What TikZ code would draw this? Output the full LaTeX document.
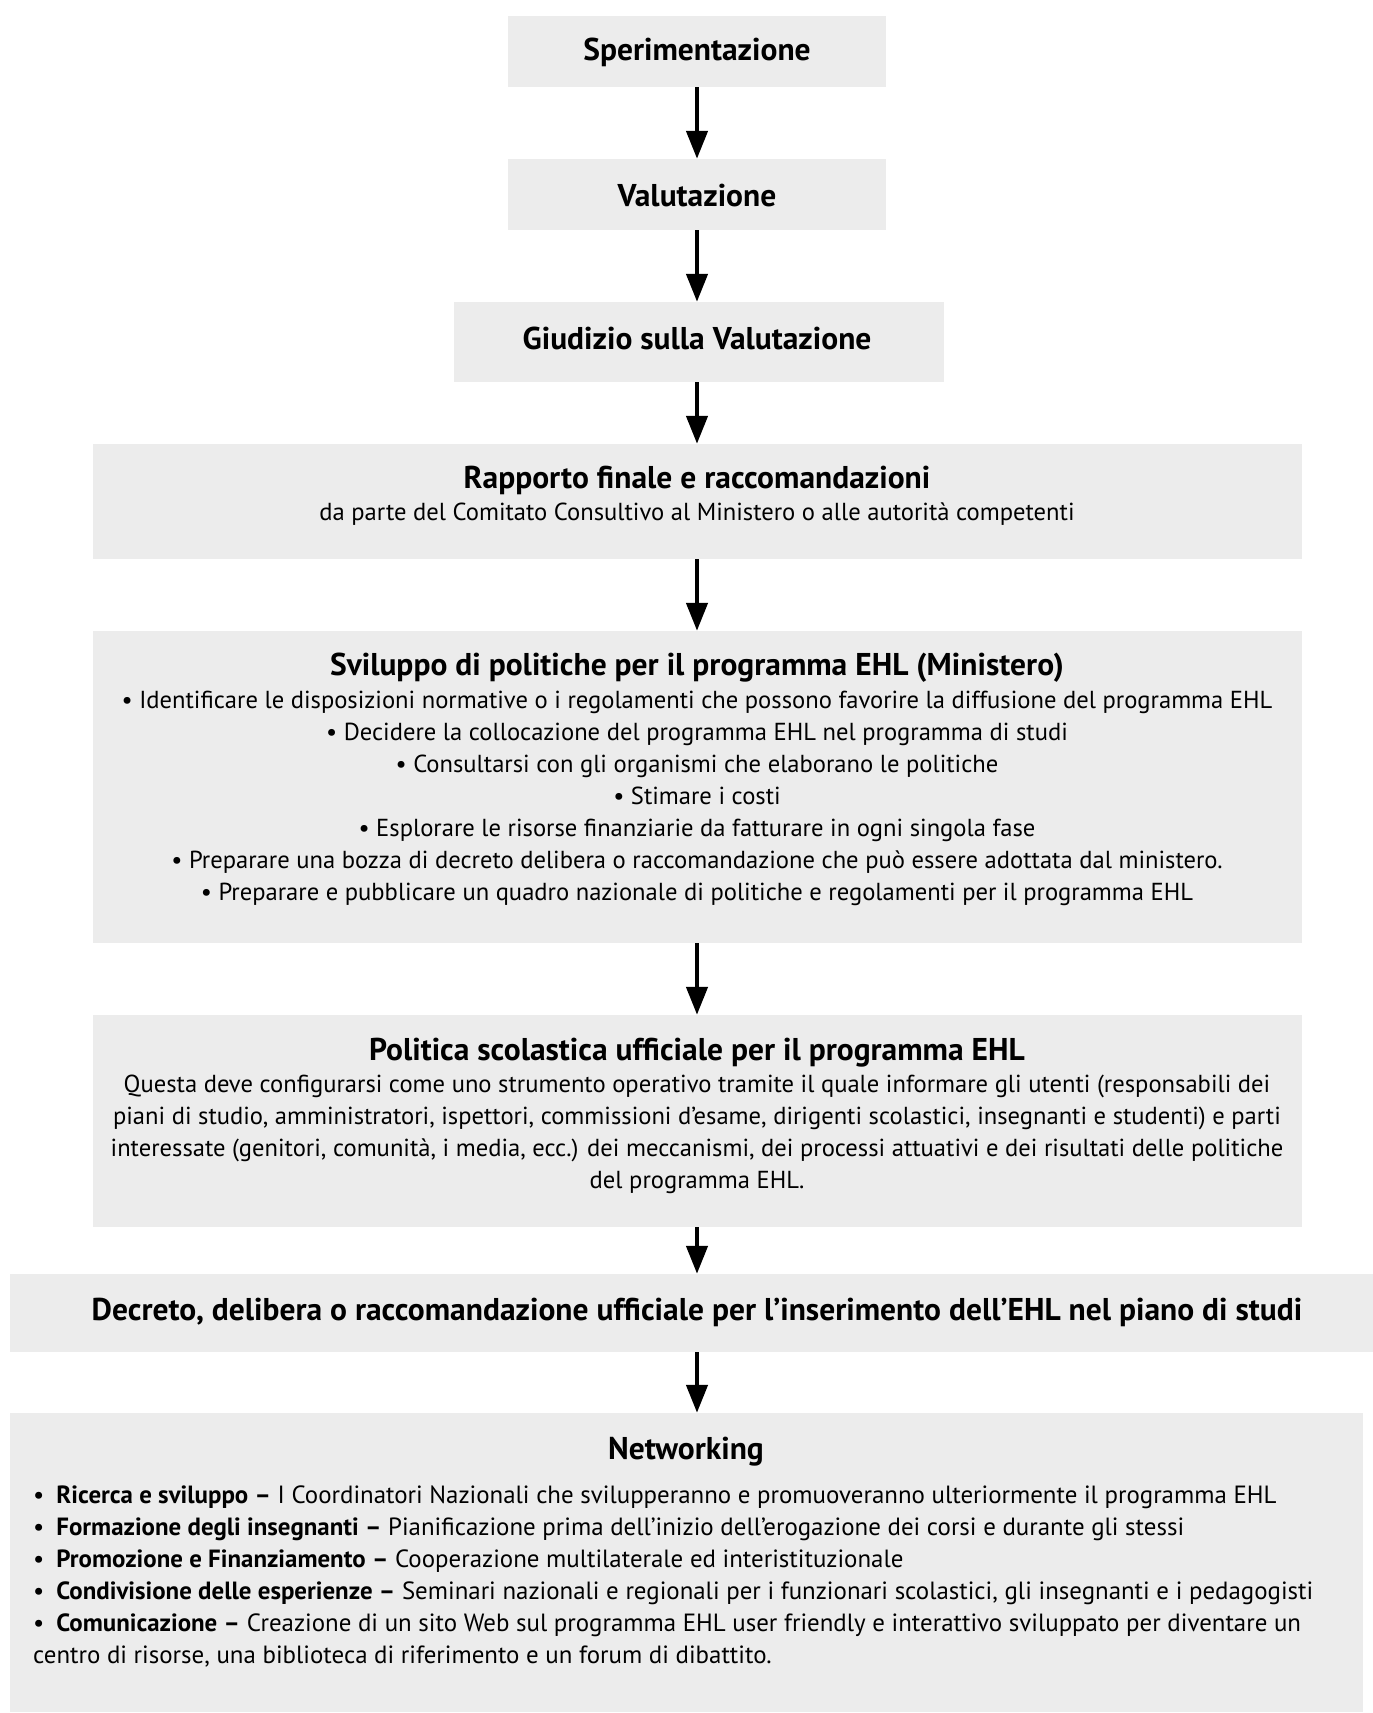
\documentclass[tikz,border=0pt]{standalone}
\usepackage{fontspec}
\setmainfont{PT Sans}
\usetikzlibrary{arrows.meta}
\definecolor{boxgrey}{RGB}{236,236,236}

\begin{document}
\begin{tikzpicture}[x=1pt, y=-1pt,
  box/.style={fill=boxgrey, inner sep=0pt},
  titel/.style={inner sep=0pt, font=\fontsize{31.5}{32}\selectfont\bfseries},
  corpo/.style={inner sep=0pt, align=center, font=\fontsize{24.6}{32}\selectfont},
  flow/.style={-{Triangle[length=28pt,width=21pt]}, line width=4.5pt}]

\useasboundingbox (0,0) rectangle (1373,1713);

% Kaesten (grau)
\node[box, minimum width=378pt, minimum height=71pt]   (spe) at (697,51.5) {};
\node[box, minimum width=378pt, minimum height=71pt]   (val) at (697,194.5) {};
\node[box, minimum width=490pt, minimum height=80pt]   (giu) at (699,342) {};
\node[box, minimum width=1209pt, minimum height=115pt] (rap) at (697.5,501.5) {};
\node[box, minimum width=1209pt, minimum height=312pt] (svi) at (697.5,787) {};
\node[box, minimum width=1209pt, minimum height=212pt] (pol) at (697.5,1121) {};
\node[box, minimum width=1363pt, minimum height=78pt]  (dec) at (691.5,1313) {};
\node[box, minimum width=1353pt, minimum height=299pt] (net) at (686.5,1562.5) {};

% Titel
\node[titel] (spe-t) at (697,52)  {Sperimentazione};
\node[titel] (val-t) at (697,196) {Valutazione};
\node[titel] (giu-t) at (697,338) {Giudizio sulla Valutazione};
\node[titel] (rap-t) at (697,480) {Rapporto finale e raccomandazioni};
\node[titel] (svi-t) at (697,668) {Sviluppo di politiche per il programma EHL (Ministero)};
\node[titel] (pol-t) at (697,1053) {Politica scolastica ufficiale per il programma EHL};
\node[titel] (dec-t) at (697,1312) {Decreto, delibera o raccomandazione ufficiale per l’inserimento dell’EHL nel piano di studi};
\node[titel] (net-t) at (686,1452) {Networking};

% Text
\node[corpo, anchor=north] (rap-c) at (697,502.5)
  {da parte del Comitato Consultivo al Ministero o alle autorità competenti};
\node[corpo, anchor=north] (svi-c) at (697,690.5)
  {• Identificare le disposizioni normative o i regolamenti che possono favorire la diffusione del programma EHL\\
   • Decidere la collocazione del programma EHL nel programma di studi\\
   • Consultarsi con gli organismi che elaborano le politiche\\
   • Stimare i costi\\
   • Esplorare le risorse finanziarie da fatturare in ogni singola fase\\
   • Preparare una bozza di decreto delibera o raccomandazione che può essere adottata dal ministero.\\
   • Preparare e pubblicare un quadro nazionale di politiche e regolamenti per il programma EHL};
\node[corpo, anchor=north] (pol-c) at (697,1074.5)
  {Questa deve configurarsi come uno strumento operativo tramite il quale informare gli utenti (responsabili dei\\
   piani di studio, amministratori, ispettori, commissioni d’esame, dirigenti scolastici, insegnanti e studenti) e parti\\
   interessate (genitori, comunità, i media, ecc.) dei meccanismi, dei processi attuativi e dei risultati delle politiche\\
   del programma EHL.};
\node[corpo, align=left, anchor=north west, font=\fontsize{24.9}{32}\selectfont] (net-c) at (33,1485.5)
  {•\hskip12pt\textbf{Ricerca e sviluppo –} I Coordinatori Nazionali che svilupperanno e promuoveranno ulteriormente il programma EHL\\
   •\hskip12pt\textbf{Formazione degli insegnanti –} Pianificazione prima dell’inizio dell’erogazione dei corsi e durante gli stessi\\
   •\hskip12pt\textbf{Promozione e Finanziamento –} Cooperazione multilaterale ed interistituzionale\\
   •\hskip12pt\textbf{Condivisione delle esperienze –} Seminari nazionali e regionali per i funzionari scolastici, gli insegnanti e i pedagogisti\\
   •\hskip12pt\textbf{Comunicazione –} Creazione di un sito Web sul programma EHL user friendly e interattivo sviluppato per diventare un\\
   centro di risorse, una biblioteca di riferimento e un forum di dibattito.};

% Pfeile
\draw[flow] (spe) -- (val);
\draw[flow] (val) -- (giu.north -| val);
\draw[flow] (giu.south -| val) -- (rap.north -| val);
\draw[flow] (rap.south -| val) -- (svi.north -| val);
\draw[flow] (svi.south -| val) -- (pol.north -| val);
\draw[flow] (pol.south -| val) -- (dec.north -| val);
\draw[flow] (dec.south -| val) -- (net.north -| val);

\end{tikzpicture}
\end{document}
